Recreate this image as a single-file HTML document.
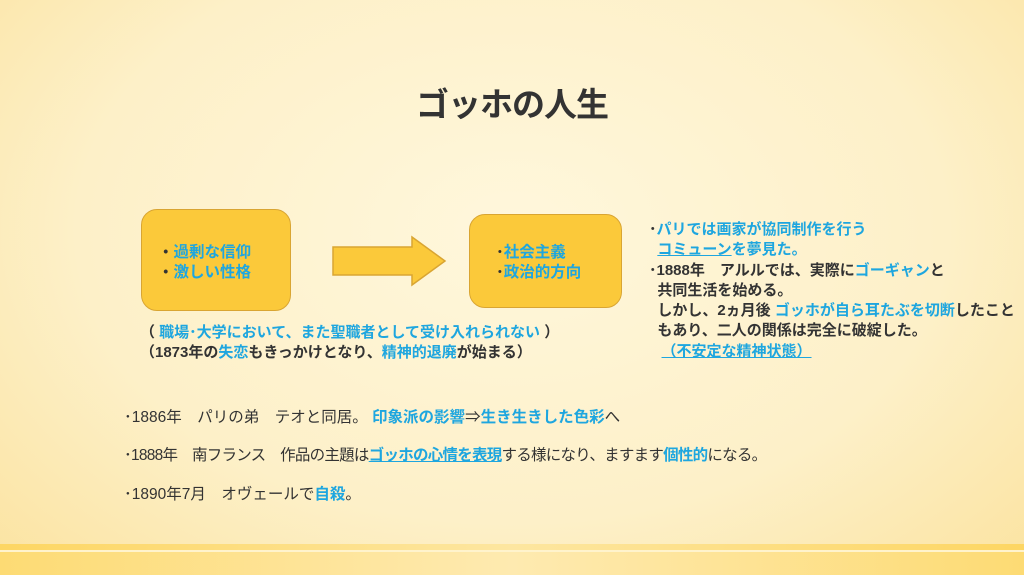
<!DOCTYPE html>
<html><head><meta charset="utf-8"><style>
body{margin:0;width:1024px;height:575px;overflow:hidden;position:relative;
background:radial-gradient(ellipse at 50% 40%,#fff7dc 0%,#fdf0c8 60%,#fbe3a0 100%);
font-family:"Liberation Sans","Noto Sans CJK JP",sans-serif;color:#333;}
.a{position:absolute;white-space:nowrap;}
.b{color:#1ea6df;}
.u{text-decoration:underline;text-decoration-color:#1ea6df;}
.bold{font-weight:bold;}
.box{position:absolute;background:#fbc93a;border:1.5px solid #d9a532;border-radius:16px;box-sizing:border-box;}
</style></head><body>
<div class="a bold" style="left:416px;top:78px;font-size:33px;letter-spacing:-1px;color:#333">ゴッホの人生</div>

<div class="box" style="left:141px;top:209px;width:150px;height:102px"></div>
<div class="box" style="left:469px;top:214px;width:153px;height:94px"></div>
<svg class="a" style="left:330px;top:234px" width="120" height="55"><polygon points="3,13 82,13 82,3 115,27 82,51 82,41 3,41" fill="#fbc93a" stroke="#d9a532" stroke-width="1.5"/></svg>

<div class="a bold" style="left:158px;top:243px;font-size:15.5px;line-height:20px">・<span class="b">過剰な信仰</span><br>・<span class="b">激しい性格</span></div>
<div class="a bold" style="left:496px;top:243px;font-size:15.5px;line-height:20px">･<span class="b">社会主義</span><br>･<span class="b">政治的方向</span></div>

<div class="a bold" style="left:140px;top:323px;font-size:15px;line-height:20px">（ <span class="b">職場･大学において、また聖職者として受け入れられない</span> ）<br>（1873年の<span class="b">失恋</span>もきっかけとなり、<span class="b">精神的退廃</span>が始まる）</div>

<div class="a bold" style="left:649px;top:220px;font-size:15px;line-height:20.3px">･<span class="b">パリでは画家が協同制作を行う</span><br>&nbsp;&nbsp;<span class="b u">コミューン</span><span class="b">を夢見た。</span><br>･1888年　アルルでは、実際に<span class="b">ゴーギャン</span>と<br>&nbsp;&nbsp;共同生活を始める。<br>&nbsp;&nbsp;しかし、2ヵ月後 <span class="b">ゴッホが自ら耳たぶを切断</span>したこと<br>&nbsp;&nbsp;もあり、二人の関係は完全に破綻した。<br>&nbsp;&nbsp;&nbsp;<span class="b u">（不安定な精神状態）</span></div>

<div class="a" style="left:124px;top:405px;font-size:15.5px">･1886年　パリの弟　テオと同居。 <span class="b bold">印象派の影響</span>⇒<span class="b bold">生き生きした色彩</span>へ</div>
<div class="a" style="left:124px;top:443px;font-size:15.5px;letter-spacing:-0.75px">･1888年　南フランス　作品の主題は<span class="b bold u">ゴッホの心情を表現</span>する様になり、ますます<span class="b bold">個性的</span>になる。</div>
<div class="a" style="left:124px;top:482px;font-size:15.5px">･1890年7月　オヴェールで<span class="b bold">自殺</span>。</div>

<div class="a" style="left:0;top:544px;width:1024px;height:6px;background:linear-gradient(90deg,#fdd663,#fde6a0 50%,#fdd663)"></div>
<div class="a" style="left:0;top:550px;width:1024px;height:2px;background:#fff3cc"></div>
<div class="a" style="left:0;top:552px;width:1024px;height:23px;background:linear-gradient(90deg,#fddb74,#feeab0 50%,#fddb74)"></div>
</body></html>
